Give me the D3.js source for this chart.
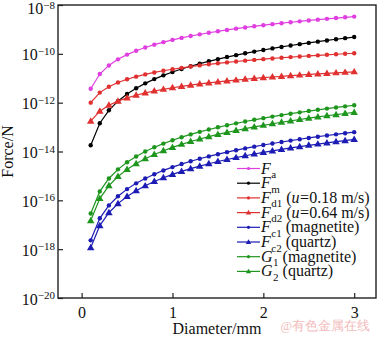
<!DOCTYPE html>
<html><head><meta charset="utf-8">
<script src="https://cdn.jsdelivr.net/npm/d3@7/dist/d3.min.js"></script>
<style>body{margin:0;background:#fff}svg{display:block}text{font-family:"Liberation Serif","Times New Roman",serif}</style>
</head><body><svg id="c" width="380" height="337"></svg>
<script>
const diameter = [0.1,0.2,0.3,0.4,0.5,0.6,0.7,0.8,0.9,1.0,1.1,1.2,1.3,1.4,1.5,1.6,1.7,1.8,1.9,2.0,2.1,2.2,2.3,2.4,2.5,2.6,2.7,2.8,2.9,3.0];
const Fa = [3.72e-12,1.49e-11,3.35e-11,5.95e-11,9.30e-11,1.34e-10,1.82e-10,2.38e-10,3.01e-10,3.72e-10,4.50e-10,5.36e-10,6.29e-10,7.29e-10,8.37e-10,9.52e-10,1.075e-9,1.205e-9,1.343e-9,1.488e-9,1.641e-9,1.800e-9,1.968e-9,2.143e-9,2.325e-9,2.515e-9,2.712e-9,2.916e-9,3.129e-9,3.348e-9];
const Fm = [1.8e-14,1.44e-13,4.86e-13,1.152e-12,2.25e-12,3.89e-12,6.17e-12,9.22e-12,1.312e-11,1.8e-11,2.40e-11,3.11e-11,3.95e-11,4.94e-11,6.08e-11,7.37e-11,8.84e-11,1.050e-10,1.235e-10,1.44e-10,1.667e-10,1.917e-10,2.19e-10,2.49e-10,2.81e-10,3.16e-10,3.54e-10,3.95e-10,4.39e-10,4.86e-10];
const Fd1 = [1.00e-12,2.58e-12,4.50e-12,6.68e-12,9.07e-12,1.165e-11,1.438e-11,1.727e-11,2.03e-11,2.34e-11,2.67e-11,3.01e-11,3.36e-11,3.72e-11,4.09e-11,4.46e-11,4.85e-11,5.25e-11,5.65e-11,6.06e-11,6.48e-11,6.90e-11,7.34e-11,7.78e-11,8.23e-11,8.68e-11,9.14e-11,9.61e-11,1.008e-10,1.056e-10];
const Fd2 = [1.74e-13,4.49e-13,7.82e-13,1.161e-12,1.576e-12,2.02e-12,2.50e-12,3.00e-12,3.53e-12,4.07e-12,4.64e-12,5.23e-12,5.84e-12,6.46e-12,7.11e-12,7.75e-12,8.43e-12,9.12e-12,9.82e-12,1.053e-11,1.126e-11,1.199e-11,1.275e-11,1.352e-11,1.430e-11,1.509e-11,1.589e-11,1.670e-11,1.752e-11,1.835e-11];
const Fc1 = [2.30e-18,1.84e-17,6.21e-17,1.472e-16,2.88e-16,4.97e-16,7.89e-16,1.178e-15,1.677e-15,2.30e-15,3.06e-15,3.97e-15,5.05e-15,6.31e-15,7.76e-15,9.42e-15,1.130e-14,1.341e-14,1.578e-14,1.84e-14,2.13e-14,2.45e-14,2.80e-14,3.18e-14,3.59e-14,4.04e-14,4.53e-14,5.05e-14,5.61e-14,6.21e-14];
const Fc2 = [1.15e-18,9.20e-18,3.11e-17,7.36e-17,1.44e-16,2.48e-16,3.94e-16,5.89e-16,8.38e-16,1.15e-15,1.53e-15,1.99e-15,2.53e-15,3.16e-15,3.88e-15,4.71e-15,5.65e-15,6.71e-15,7.89e-15,9.20e-15,1.065e-14,1.224e-14,1.399e-14,1.590e-14,1.797e-14,2.02e-14,2.26e-14,2.52e-14,2.80e-14,3.11e-14];
const G1 = [2.90e-17,2.32e-16,7.83e-16,1.856e-15,3.63e-15,6.26e-15,9.95e-15,1.485e-14,2.11e-14,2.90e-14,3.86e-14,5.01e-14,6.37e-14,7.96e-14,9.79e-14,1.188e-13,1.425e-13,1.691e-13,1.989e-13,2.32e-13,2.69e-13,3.09e-13,3.53e-13,4.01e-13,4.53e-13,5.10e-13,5.71e-13,6.37e-13,7.07e-13,7.83e-13];
const G2 = [1.48e-17,1.184e-16,4.00e-16,9.47e-16,1.85e-15,3.20e-15,5.08e-15,7.58e-15,1.079e-14,1.48e-14,1.97e-14,2.56e-14,3.25e-14,4.06e-14,5.00e-14,6.06e-14,7.27e-14,8.63e-14,1.015e-13,1.184e-13,1.371e-13,1.576e-13,1.801e-13,2.05e-13,2.31e-13,2.60e-13,2.91e-13,3.25e-13,3.61e-13,4.00e-13];
const xTicks = [0,1,2,3];
const yTickExps = [-20,-18,-16,-14,-12,-10,-8];

const series = [
  {v:Fa, c:"#e03ee0", m:"circle", lab:[["F","i"],["a","sub"]]},
  {v:Fm, c:"#000000", m:"circle", lab:[["F","i"],["m","sub"]]},
  {v:Fd1, c:"#e03030", m:"circle", lab:[["F","i"],["d1","sub"],[" (",""],["u","i"],["=0.18 m/s)",""]]},
  {v:Fd2, c:"#e03030", m:"tri", lab:[["F","i"],["d2","sub"],[" (",""],["u","i"],["=0.64 m/s)",""]]},
  {v:Fc1, c:"#1c1cb4", m:"circle", lab:[["F","i"],["c1","sub"],[" (magnetite)",""]]},
  {v:Fc2, c:"#1c1cb4", m:"tri", lab:[["F","i"],["c2","sub"],[" (quartz)",""]]},
  {v:G1, c:"#1e961e", m:"circle", lab:[["G","i"],["1","sub"],[" (magnetite)",""]]},
  {v:G2, c:"#1e961e", m:"tri", lab:[["G","i"],["2","sub"],[" (quartz)",""]]}
];

const L=58, T=5, R=376, B=298;
const svg = d3.select("#c");
const x = d3.scaleLinear().domain([-0.26,3.24]).range([L,R]);
const y = d3.scaleLog().domain([1e-20,1e-8]).range([B,T]);

// axes
const xa = svg.append("g").attr("transform",`translate(0,${B})`)
  .call(d3.axisBottom(x).tickValues(xTicks).tickSize(-5).tickPadding(9).tickFormat(d3.format("d")));
const ya = svg.append("g").attr("transform",`translate(${L},0)`)
  .call(d3.axisLeft(y).tickValues(yTickExps.map(e=>Math.pow(10,e))).tickSize(-5).tickFormat(""));
[xa,ya].forEach(g=>{g.select(".domain").remove(); g.selectAll("line").attr("stroke","#222").attr("stroke-width",1.2);});
xa.selectAll("text").attr("font-size",16).attr("fill","#111").attr("font-family","Liberation Serif, serif");
ya.selectAll(".tick text").remove();
ya.selectAll(".tick").each(function(d){
  const e = Math.round(Math.log10(d));
  const g = d3.select(this);
  const base = e===-8 ? 8.5 : 6;
  const sup = g.append("text").attr("x",-3).attr("y",base-5.5).attr("text-anchor","end")
    .attr("fill","#111").attr("font-size",11).text("\u2212"+Math.abs(e));
  const w = sup.node().getComputedTextLength();
  g.append("text").attr("x",-3-w).attr("y",base).attr("text-anchor","end")
    .attr("fill","#111").attr("font-size",16).text("10");
});
svg.append("rect").attr("x",L).attr("y",T).attr("width",R-L).attr("height",B-T)
  .attr("fill","none").attr("stroke","#222").attr("stroke-width",1.4);

// titles
svg.append("text").attr("x",(L+R)/2).attr("y",334).attr("text-anchor","middle").attr("font-size",16).attr("fill","#111").text("Diameter/mm");
svg.append("text").attr("transform",`translate(13,${(T+B)/2}) rotate(-90)`).attr("text-anchor","middle").attr("font-size",16).attr("fill","#111").text("Force/N");

const tri = d3.symbol().type(d3.symbolTriangle);
function marker(g, s, cx, cy, r){
  if(s.m==="circle") g.append("circle").attr("cx",cx).attr("cy",cy).attr("r",r).attr("fill",s.c);
  else g.append("path").attr("d",tri.size(r*r*5)()).attr("transform",`translate(${cx},${cy+0.4})`).attr("fill",s.c);
}
const line = d3.line().x((d,i)=>x(diameter[i])).y(d=>y(d));
series.forEach(s=>{
  const g = svg.append("g");
  g.append("path").attr("d",line(s.v)).attr("fill","none").attr("stroke",s.c).attr("stroke-width",1.2);
  s.v.forEach((v,i)=>marker(g,s,x(diameter[i]),y(v),2.2));
});

// legend (each piece placed explicitly)
const lg = svg.append("g");
series.forEach((s,i)=>{
  const yy = 168.5 + i*14.7;
  lg.append("line").attr("x1",237).attr("x2",260).attr("y1",yy).attr("y2",yy).attr("stroke",s.c).attr("stroke-width",1.2);
  marker(lg,s,248.5,yy,1.6);
  let cx = 261;
  s.lab.forEach(([txt,st])=>{
    const isSub = st==="sub";
    const t = lg.append("text").attr("x",cx).attr("y",isSub ? yy+9.5 : yy+5)
      .attr("font-size",isSub?11:16).attr("fill","#111")
      .style("white-space","pre").attr("xml:space","preserve").text(txt);
    if(st==="i") t.attr("font-style","italic");
    cx += t.node().getComputedTextLength() + (st==="i" ? 0.5 : 0);
  });
});

// watermark
svg.append("text").attr("x",370).attr("y",330).attr("text-anchor","end").attr("font-size",12.5)
  .attr("font-family","Noto Sans CJK SC, sans-serif").attr("fill","#f3bcbc").text("@有色金属在线");
</script></body></html>
